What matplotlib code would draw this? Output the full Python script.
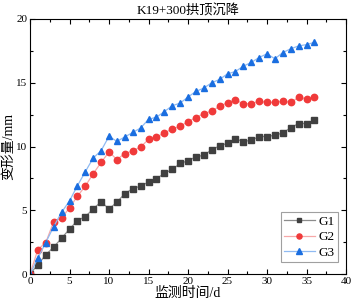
import matplotlib
matplotlib.use("Agg")
import matplotlib.pyplot as plt
from matplotlib.ticker import MultipleLocator

plt.rcParams['font.family'] = ['Liberation Serif', 'Noto Sans CJK SC']
plt.rcParams['axes.unicode_minus'] = False

days = list(range(0, 37))
g1 = [0, 0.73, 1.51, 2.11, 2.81, 3.52, 4.19, 4.5, 5.1, 5.67, 5.1, 5.63, 6.3, 6.69, 6.9, 7.21,
      7.47, 7.89, 8.2, 8.67, 8.88, 9.19, 9.31, 9.75, 10.05, 10.26, 10.6, 10.39, 10.49, 10.78,
      10.78, 10.88, 11.06, 11.48, 11.8, 11.8, 12.08]
g2 = [0, 1.92, 2.47, 4.11, 4.37, 5.2, 6.09, 6.9, 7.86, 8.75, 9.57, 8.98, 9.45, 9.65, 9.97,
      10.55, 10.75, 11.06, 11.38, 11.59, 11.95, 12.27, 12.58, 12.78, 13.15, 13.44, 13.64,
      13.36, 13.36, 13.56, 13.46, 13.46, 13.56, 13.46, 13.85, 13.75, 13.85]
g3 = [0, 1.25, 2.47, 3.72, 4.84, 5.73, 6.92, 8.02, 9.1, 9.67, 10.8, 10.4, 10.75, 11.1, 11.45,
      12.13, 12.3, 12.73, 13.2, 13.4, 13.88, 14.32, 14.58, 15.0, 15.26, 15.7, 15.88, 16.3,
      16.59, 16.98, 17.27, 16.88, 17.37, 17.66, 17.89, 17.99, 18.17]

title = "K19+300拱顶沉降"
xlabel = "监测时间/d"
ylabel = "变形量/mm"

fig = plt.figure(figsize=(3.54, 3.07), dpi=100)
ax = fig.add_axes([30/354, 1-274/307, 316/354, 255/307])

ax.plot(days, g1, color='#8c8c8c', lw=0.9, marker='s', ms=4, mfc='#404040', mec='#404040', label='G1')
ax.plot(days, g2, color='#f7a8a8', lw=0.9, marker='o', ms=4.6, mfc='#f03a3a', mec='#f03a3a', label='G2')
ax.plot(days, g3, color='#8fbaf2', lw=0.9, marker='^', ms=5, mfc='#1a6ee0', mec='#1a6ee0', label='G3')

ax.set_xlim(0, 40)
ax.set_ylim(0, 20)
ax.xaxis.set_major_locator(MultipleLocator(5))
ax.xaxis.set_minor_locator(MultipleLocator(2.5))
ax.yaxis.set_major_locator(MultipleLocator(5))
ax.yaxis.set_minor_locator(MultipleLocator(2.5))
ax.tick_params(which='both', direction='in', top=True, right=True, labelsize=8, width=0.8, pad=2)
ax.tick_params(which='major', length=3.5)
ax.tick_params(which='minor', length=2)
for s in ax.spines.values():
    s.set_linewidth(0.8)

ax.set_title(title, fontsize=9.5, pad=3)
ax.set_xlabel(xlabel, fontsize=10, labelpad=1)
ax.set_ylabel(ylabel, fontsize=10, labelpad=1)

leg = ax.legend(loc='lower right', fontsize=9.5, frameon=True, fancybox=False, edgecolor='#888888',
                handlelength=2.3, borderpad=0.25, labelspacing=0.25, handletextpad=0.3,
                markerscale=0.8, borderaxespad=0, bbox_to_anchor=(0.975, 0.047))
leg.get_frame().set_linewidth(0.8)

fig.savefig('out.png', dpi=100)
